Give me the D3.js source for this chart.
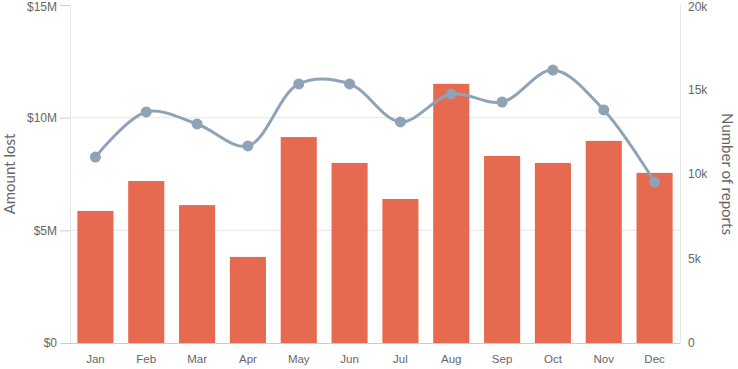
<!DOCTYPE html>
<html><head><meta charset="utf-8">
<script src="https://cdn.jsdelivr.net/npm/d3@7"></script>
<style>body{margin:0;background:#fff}svg{display:block;font-family:Lato,"Open Sans",sans-serif}</style>
</head><body><svg id="c" width="738" height="369"></svg>
<script>
const months = ["Jan","Feb","Mar","Apr","May","Jun","Jul","Aug","Sep","Oct","Nov","Dec"];
const amountLost = [5.86,7.19,6.12,3.82,9.14,7.99,6.39,11.5,8.3,7.99,8.97,7.55]; // $M
const reports = [11.0,13.67,12.96,11.66,15.33,15.33,13.08,14.73,14.26,16.15,13.79,9.53]; // thousands
const leftTicks = [0,5,10,15];
const rightTicks = [0,5,10,15,20];

const svg = d3.select("#c");
const L = 70, R = 680, T = 5, B = 343;
const x = d3.scaleBand().domain(months).range([L, R]).paddingInner(0.29).paddingOuter(0.145);
const yL = d3.scaleLinear().domain([0,15]).range([B, T]);
const yR = d3.scaleLinear().domain([0,20]).range([B, T]);
const txt = "#666";

// gridlines
svg.append("g").selectAll("line").data(leftTicks.filter(d=>d>0 && d<15)).join("line")
  .attr("x1", L).attr("x2", R).attr("y1", d=>yL(d)).attr("y2", d=>yL(d))
  .attr("stroke", "#e6e6e6");
svg.append("line").attr("x1", L+0.5).attr("x2", L+0.5).attr("y1", T).attr("y2", B).attr("stroke","#e6e6e6");
svg.append("line").attr("x1", R+0.5).attr("x2", R+0.5).attr("y1", T).attr("y2", B).attr("stroke","#e6e6e6");

// bars
svg.append("g").selectAll("rect").data(amountLost).join("rect")
  .attr("x", (d,i)=>x(months[i])).attr("width", x.bandwidth())
  .attr("y", d=>yL(d)).attr("height", d=>B - yL(d))
  .attr("fill", "#e66a50");

// left axis
const la = svg.append("g").attr("transform", `translate(${L},0)`)
  .call(d3.axisLeft(yL).tickValues(leftTicks).tickSize(10).tickPadding(3).tickFormat(d=>"$"+d+(d?"M":"")));
la.select(".domain").remove();
la.selectAll("line").attr("stroke","#ccc");
la.selectAll("text").attr("fill", txt).style("font-size","12px");
la.selectAll(".tick").filter(d=>d===15).select("text").attr("dy","0.42em");

// right axis
const ra = svg.append("g").attr("transform", `translate(${R},0)`)
  .call(d3.axisRight(yR).tickValues(rightTicks).tickSize(0).tickPadding(8).tickFormat(d=>d? d+"k" : "0"));
ra.select(".domain").remove();
ra.selectAll("text").attr("fill", txt).style("font-size","12px");
ra.selectAll(".tick").filter(d=>d===20).select("text").attr("dy","0.42em");

// bottom axis
const ba = svg.append("g").attr("transform", `translate(0,${B})`)
  .call(d3.axisBottom(x).tickSize(0).tickPadding(12));
ba.select(".domain").attr("stroke","#ccc").attr("d", `M${L},0.5H${R}`);
ba.selectAll("text").attr("fill", txt).style("font-size","11.5px");

// line
const line = d3.line().x((d,i)=>x(months[i]) + x.bandwidth()/2).y(d=>yR(d)).curve(d3.curveCatmullRom.alpha(0.5));
svg.append("path").datum(reports).attr("d", line).attr("fill","none")
  .attr("stroke","#8fa2b6").attr("stroke-width",3);
svg.append("g").selectAll("circle").data(reports).join("circle")
  .attr("cx",(d,i)=>x(months[i]) + x.bandwidth()/2).attr("cy", d=>yR(d)).attr("r",5.5)
  .attr("fill","#8fa2b6");

// axis titles
svg.append("text").attr("transform", `translate(15,${(T+B)/2}) rotate(-90)`)
  .attr("text-anchor","middle").attr("fill", txt).style("font-size","15px").text("Amount lost");
svg.append("text").attr("transform", `translate(722,${(T+B)/2}) rotate(90)`)
  .attr("text-anchor","middle").attr("fill", txt).style("font-size","15px").text("Number of reports");
</script></body></html>
